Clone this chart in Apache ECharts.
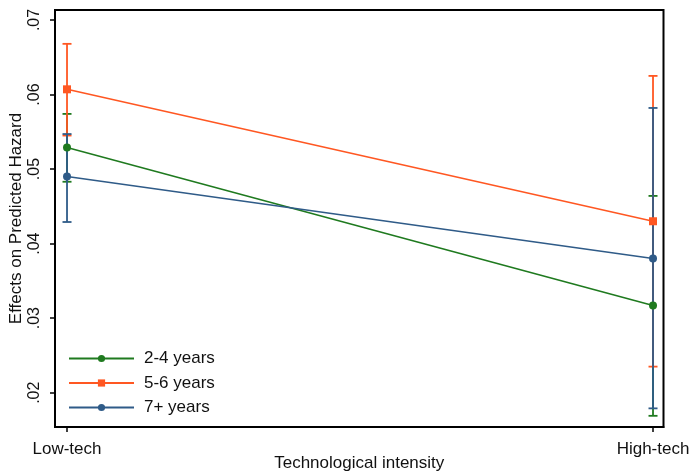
<!DOCTYPE html>
<html>
<head>
<meta charset="utf-8">
<script src="https://cdn.jsdelivr.net/npm/echarts@6/dist/echarts.min.js"></script>
<style>
html,body{margin:0;padding:0;background:#fff;}
#chart{width:694px;height:472px;}
</style>
</head>
<body>
<div id="chart"></div>
<script>
const categories = ["Low-tech", "High-tech"];
const yTicks = [0.02, 0.03, 0.04, 0.05, 0.06, 0.07];
const seriesNames = ["2-4 years", "5-6 years", "7+ years"];
const est24 = [0.0529, 0.0317];
const lo24 = [0.0483, 0.0169];
const hi24 = [0.0574, 0.0464];
const est56 = [0.0607, 0.0430];
const lo56 = [0.0545, 0.0235];
const hi56 = [0.0668, 0.0625];
const est7 = [0.0490, 0.0380];
const lo7 = [0.0429, 0.0179];
const hi7 = [0.0547, 0.0582];

const colors = ["#1f7a1f", "#ff5722", "#2f5b88"];
const symbols = ["circle", "rect", "circle"];
const ests = [est24, est56, est7];
const los = [lo24, lo56, lo7];
const his = [hi24, hi56, hi7];
const FONT = "'Liberation Sans', Arial, sans-serif";

const chart = echarts.init(document.getElementById('chart'));

function errRender(color) {
  return function (params, api) {
    const x = api.value(0);
    const p1 = api.coord([x, api.value(1)]);
    const p2 = api.coord([x, api.value(2)]);
    const w = 4.5;
    const st = { stroke: color, lineWidth: 1.8 };
    return {
      type: 'group',
      children: [
        { type: 'line', shape: { x1: p1[0], y1: p1[1], x2: p2[0], y2: p2[1] }, style: st },
        { type: 'line', shape: { x1: p1[0] - w, y1: p1[1], x2: p1[0] + w, y2: p1[1] }, style: st },
        { type: 'line', shape: { x1: p2[0] - w, y1: p2[1], x2: p2[0] + w, y2: p2[1] }, style: st }
      ]
    };
  };
}

const series = [];
for (let i = 0; i < 3; i++) {
  series.push({
    type: 'custom',
    name: seriesNames[i] + ' ci',
    renderItem: errRender(colors[i]),
    data: categories.map((c, j) => [j, los[i][j], his[i][j]]),
    z: 2 + i,
    silent: true
  });
}
for (let i = 0; i < 3; i++) {
  series.push({
    type: 'line',
    name: seriesNames[i],
    data: categories.map((c, j) => [j, ests[i][j]]),
    color: colors[i],
    symbol: symbols[i],
    symbolSize: 8,
    showAllSymbol: true,
    lineStyle: { width: 1.6, color: colors[i] },
    itemStyle: { color: colors[i] },
    z: 6 + i,
    animation: false
  });
}

chart.setOption({
  animation: false,
  backgroundColor: '#fff',
  grid: {
    left: 55, right: 30.5, top: 10, bottom: 45,
    outerBoundsMode: 'none',
    containLabel: false,
    show: true, borderColor: '#000', borderWidth: 2, backgroundColor: 'transparent'
  },
  legend: {
    data: seriesNames,
    orient: 'vertical',
    left: 68, top: 350,
    padding: 0,
    itemWidth: 65, itemHeight: 9, itemGap: 7.5,
    textStyle: { fontFamily: FONT, fontSize: 17, color: '#111', padding: [0, 0, 0, 5] }
  },
  xAxis: {
    type: 'value',
    min: -0.0205, max: 1.0179,
    name: 'Technological intensity',
    nameLocation: 'middle',
    nameGap: 28,
    nameMoveOverlap: false,
    nameTextStyle: { fontFamily: FONT, fontSize: 17, color: '#111' },
    axisLine: { show: true, onZero: false, lineStyle: { color: '#000', width: 2 } },
    axisTick: { show: true, length: 5, lineStyle: { color: '#000', width: 1.5 }, customValues: [0, 1] },
    axisLabel: {
      customValues: [0, 1],
      formatter: v => categories[Math.round(v)],
      fontFamily: FONT, fontSize: 17, color: '#111', margin: 14
    },
    splitLine: { show: false }
  },
  yAxis: {
    type: 'value',
    min: 0.0154, max: 0.07134,
    name: 'Effects on Predicted Hazard',
    nameLocation: 'middle',
    nameGap: 30,
    nameMoveOverlap: false,
    nameTextStyle: { fontFamily: FONT, fontSize: 17, color: '#111' },
    axisLine: { show: true, onZero: false, lineStyle: { color: '#000', width: 2 } },
    axisTick: { show: true, length: 5, lineStyle: { color: '#000', width: 1.5 }, customValues: yTicks },
    axisLabel: {
      customValues: yTicks,
      rotate: 90,
      formatter: v => v.toFixed(2).replace(/^0/, ''),
      fontFamily: FONT, fontSize: 16, color: '#111', margin: 12
    },
    splitLine: { show: false }
  },
  series: series
});
</script>
</body>
</html>
